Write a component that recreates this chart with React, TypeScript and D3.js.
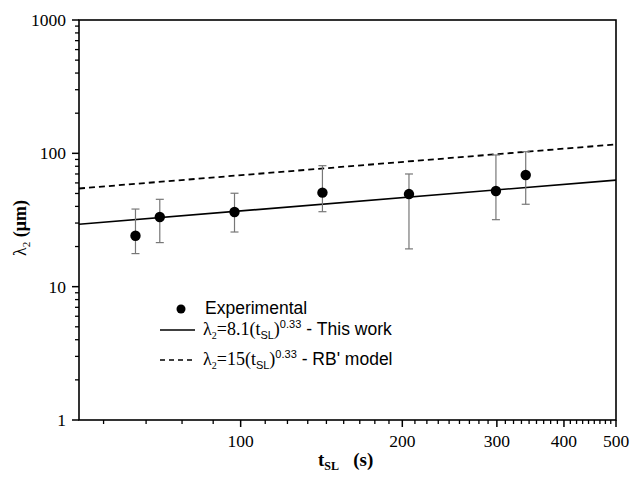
import React from "react";
import * as d3 from "d3";

const tSL = [63.7, 70.7, 97.4, 142, 205.8, 298.8, 339.5];
const lambda2 = [24.1, 33.3, 36.3, 50.7, 49.5, 52.2, 68.8];
const errHigh = [38.2, 45.2, 50.2, 80.8, 70, 97.2, 102.9];
const errLow = [17.7, 21.4, 25.7, 36.5, 19.2, 31.8, 41.5];

const fitX = [50, 500];
const fitThisWork = [29.4, 63.0];
const fitRB = [54.5, 116.7];

const xMajorTicks = [100, 200, 300, 400, 500];
const yMajorTicks = [1, 10, 100, 1000];

const W = 632;
const H = 480;
const L = 79;
const R = 616;
const T = 20;
const B = 420;

export default function App() {
  const x = d3.scaleLog().domain([50, 500]).range([L, R]);
  const y = d3.scaleLog().domain([1, 1000]).range([B, T]);

  const xMinor: number[] = [];
  for (let k = 1; k <= 45; k++) {
    const v = (k * 100) / 9;
    if (v > 50 && v < 500 && k % 9 !== 0) xMinor.push(v);
  }
  const yMinor: number[] = [];
  for (let d = 1; d <= 100; d *= 10) {
    for (let m = 2; m <= 9; m++) yMinor.push(d * m);
  }

  const line = d3
    .line<[number, number]>()
    .x((d) => x(d[0]))
    .y((d) => y(d[1]));

  const serif = "'Liberation Serif', 'Times New Roman', serif";
  const sans = "'Liberation Sans', Arial, sans-serif";

  return (
    <svg
      width={W}
      height={H}
      style={{ position: "absolute", left: 0, top: 0, display: "block", background: "#fff" }}
    >
      {/* fit lines */}
      <path
        d={line(fitX.map((v, i) => [v, fitRB[i]]) as [number, number][]) || ""}
        fill="none"
        stroke="#000"
        strokeWidth={1.8}
        strokeDasharray="6,4"
      />
      <path
        d={line(fitX.map((v, i) => [v, fitThisWork[i]]) as [number, number][]) || ""}
        fill="none"
        stroke="#000"
        strokeWidth={1.6}
      />
      {/* error bars */}
      {tSL.map((t, i) => {
        const cx = x(t);
        return (
          <g key={"e" + i} stroke="#777" strokeWidth={1.2}>
            <line x1={cx} x2={cx} y1={y(errHigh[i])} y2={y(errLow[i])} />
            <line x1={cx - 4} x2={cx + 4} y1={y(errHigh[i])} y2={y(errHigh[i])} />
            <line x1={cx - 4} x2={cx + 4} y1={y(errLow[i])} y2={y(errLow[i])} />
          </g>
        );
      })}
      {tSL.map((t, i) => (
        <circle key={"p" + i} cx={x(t)} cy={y(lambda2[i])} r={5.2} fill="#000" />
      ))}

      {/* frame */}
      <rect x={L} y={T} width={R - L} height={B - T} fill="none" stroke="#000" strokeWidth={1.6} />

      {/* x ticks */}
      {xMinor.map((v) => (
        <line key={"xm" + v} x1={x(v)} x2={x(v)} y1={B} y2={B + 4} stroke="#000" strokeWidth={1.3} />
      ))}
      {xMajorTicks.map((v) => (
        <g key={"xM" + v}>
          <line x1={x(v)} x2={x(v)} y1={B} y2={B + 7} stroke="#000" strokeWidth={1.5} />
          <text
            x={x(v)}
            y={B + 27}
            textAnchor="middle"
            fontFamily={serif}
            fontSize={17.5}
            fill="#000"
          >
            {v}
          </text>
        </g>
      ))}

      {/* y ticks */}
      {yMinor.map((v) => (
        <line key={"ym" + v} x1={L - 4} x2={L} y1={y(v)} y2={y(v)} stroke="#000" strokeWidth={1.3} />
      ))}
      {yMajorTicks.map((v) => (
        <g key={"yM" + v}>
          <line x1={L - 7} x2={L} y1={y(v)} y2={y(v)} stroke="#000" strokeWidth={1.5} />
          <text
            x={L - 13}
            y={y(v) + 6}
            textAnchor="end"
            fontFamily={serif}
            fontSize={17.5}
            fill="#000"
          >
            {v}
          </text>
        </g>
      ))}

      {/* x title */}
      <text x={318} y={466} fontFamily={serif} fontWeight="bold" fontSize={19} fill="#000">
        t
        <tspan fontSize={12} dy={4}>SL</tspan>
        <tspan dy={-4}>{"\u2002 (s)"}</tspan>
      </text>

      {/* y title */}
      <text
        transform="translate(26,228) rotate(-90)"
        textAnchor="middle"
        fontFamily={serif}
        fontWeight="bold"
        fontSize={18}
        fill="#000"
      >
        <tspan fontWeight="normal">λ</tspan>
        <tspan fontSize={11} dy={4} fontWeight="normal">2</tspan>
        <tspan dy={-4}>{" (μm)"}</tspan>
      </text>

      {/* legend */}
      <circle cx={181} cy={309} r={4.5} fill="#000" />
      <text x={205} y={314} fontFamily={sans} fontSize={17.5} fill="#000">
        Experimental
      </text>

      <line x1={160} x2={195} y1={330} y2={330} stroke="#000" strokeWidth={1.5} />
      <text x={203} y={335} fontFamily={serif} fontSize={18} fill="#000">
        λ
        <tspan fontSize={10} dy={4}>2</tspan>
        <tspan dy={-4}>=8.1(t</tspan>
        <tspan fontFamily={sans} fontSize={11} dy={4}>SL</tspan>
        <tspan dy={-4}>)</tspan>
        <tspan fontFamily={sans} fontSize={11} dy={-7}>0.33</tspan>
        <tspan fontFamily={sans} fontSize={17.5} dy={7}>{" - This work"}</tspan>
      </text>

      <line x1={160} x2={195} y1={360} y2={360} stroke="#000" strokeWidth={1.5} strokeDasharray="5,4" />
      <text x={203} y={365} fontFamily={serif} fontSize={18} fill="#000">
        λ
        <tspan fontSize={10} dy={4}>2</tspan>
        <tspan dy={-4}>=15(t</tspan>
        <tspan fontFamily={sans} fontSize={11} dy={4}>SL</tspan>
        <tspan dy={-4}>)</tspan>
        <tspan fontFamily={sans} fontSize={11} dy={-7}>0.33</tspan>
        <tspan fontFamily={sans} fontSize={17.5} dy={7}>{" - RB' model"}</tspan>
      </text>
    </svg>
  );
}
